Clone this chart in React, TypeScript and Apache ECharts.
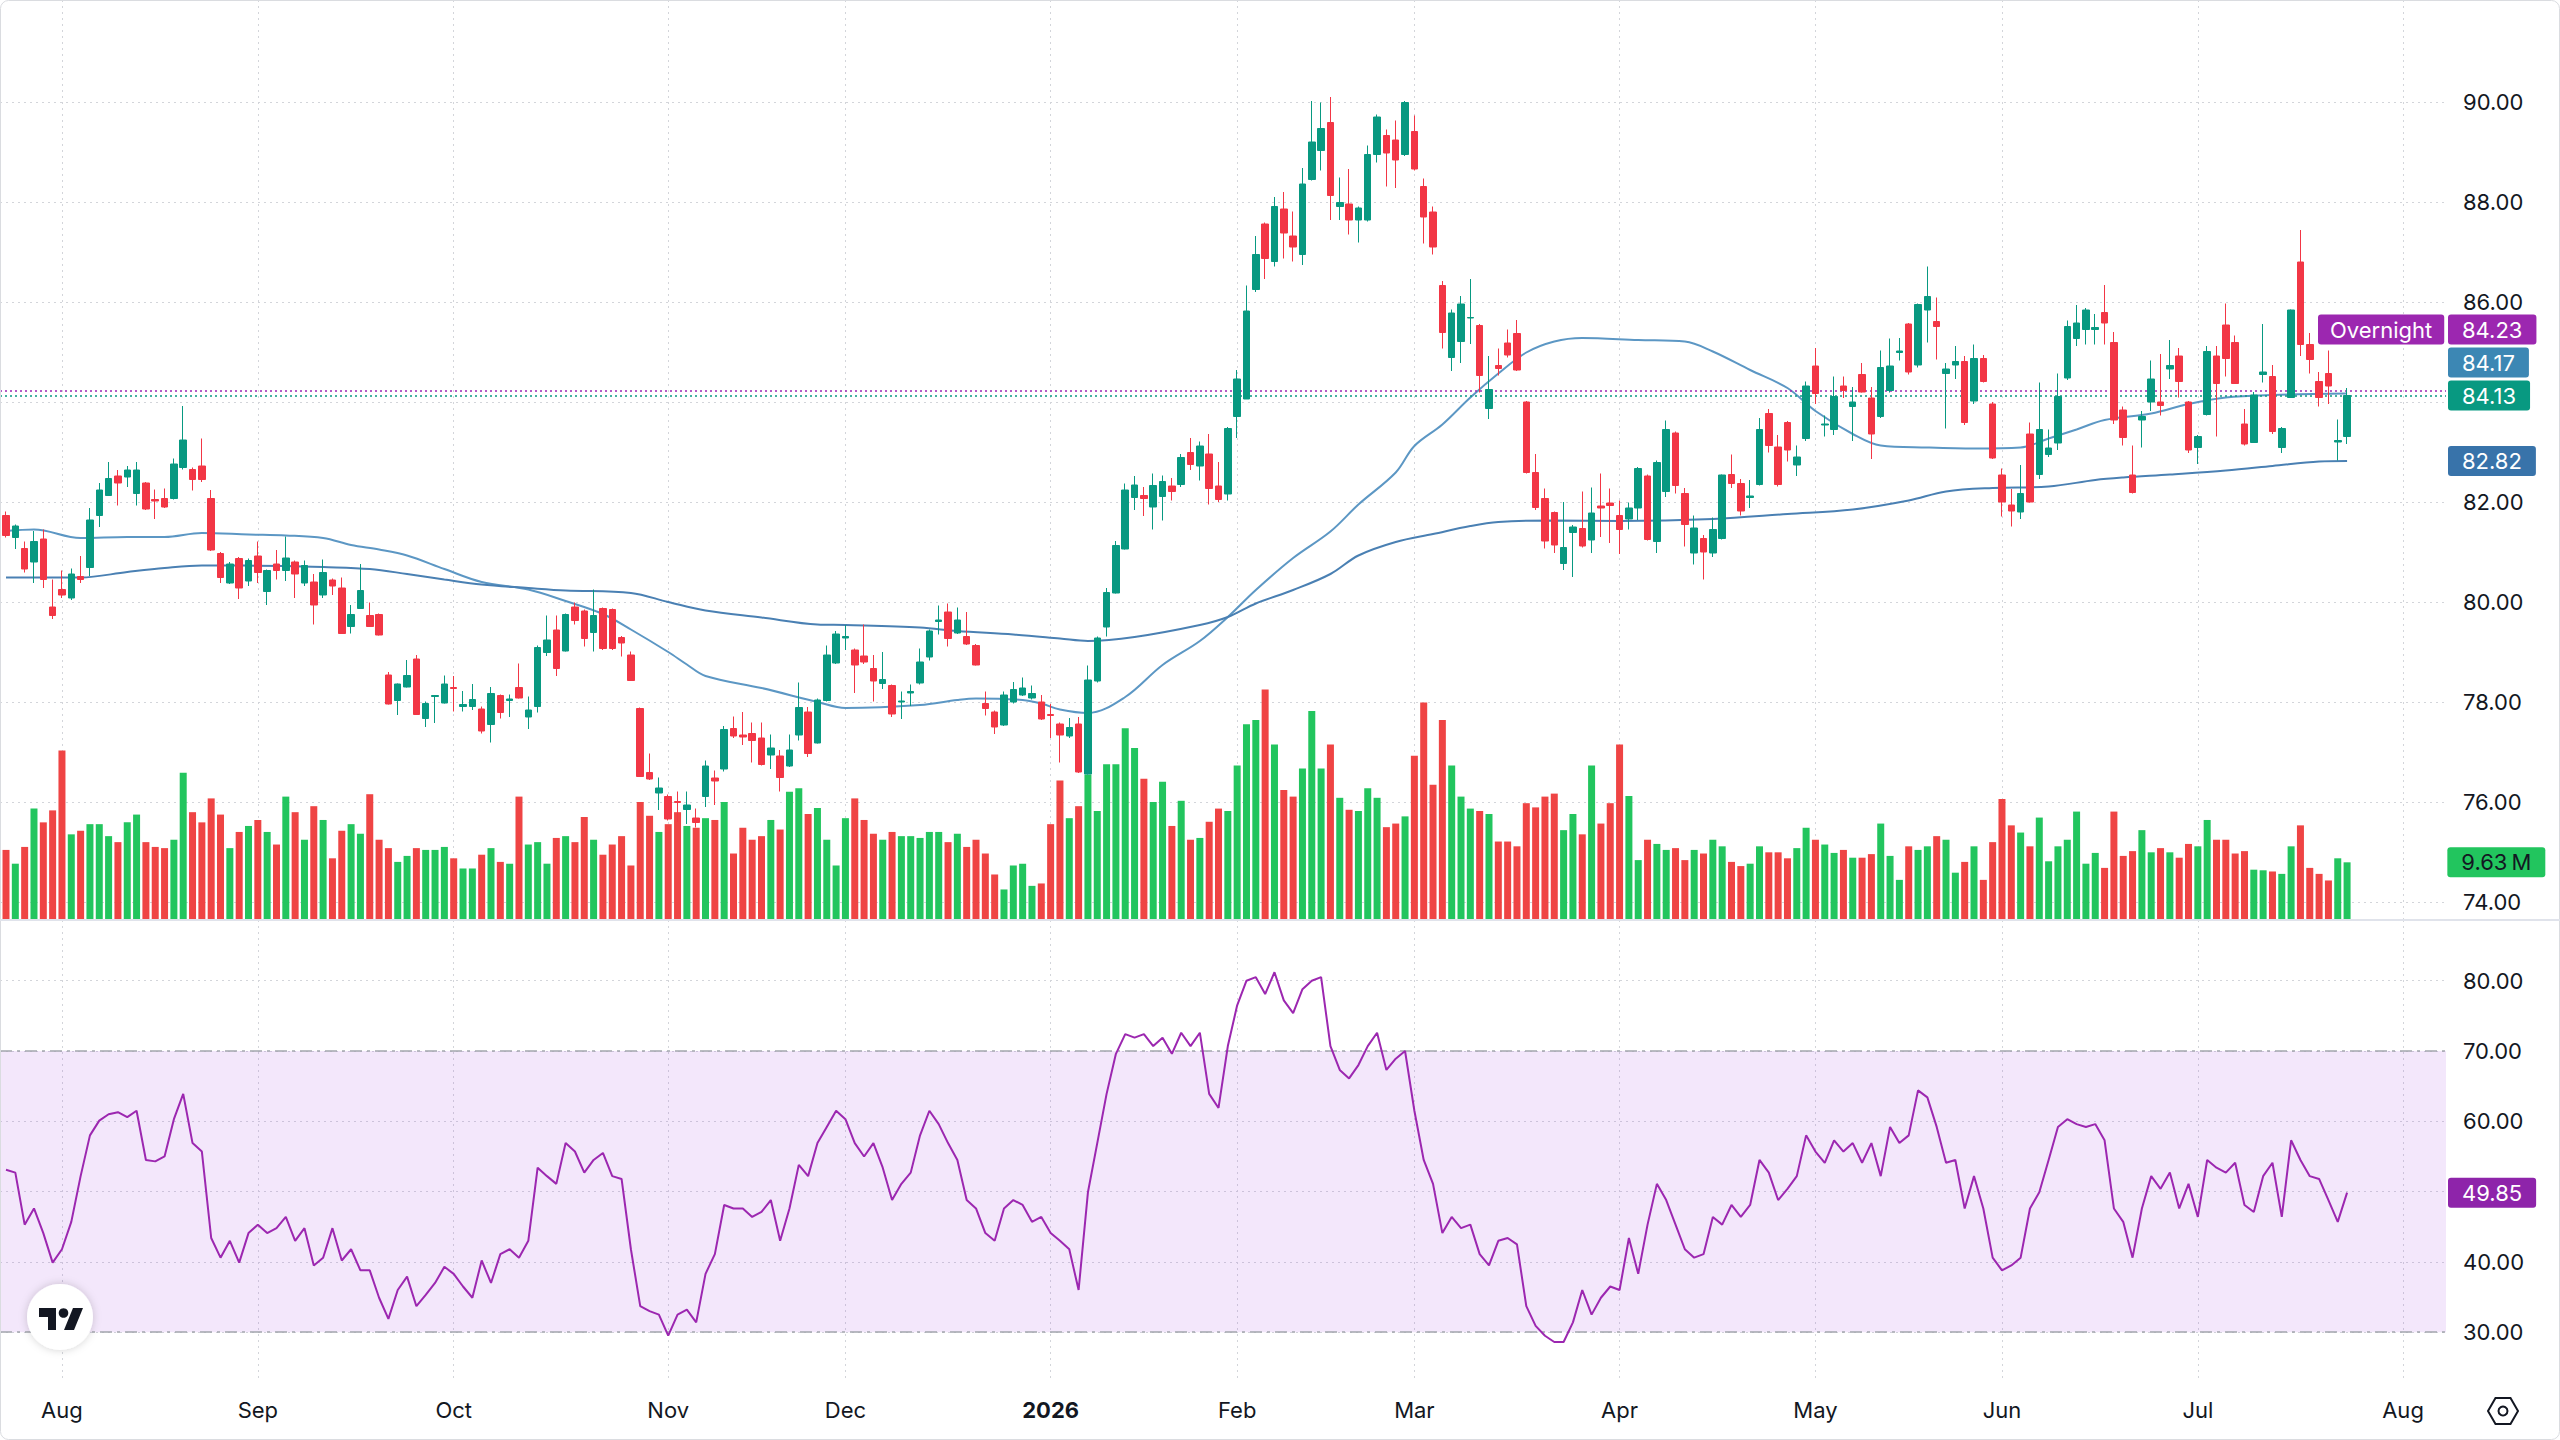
import React, { useEffect, useRef } from "react";
import * as echarts from "echarts";

// ---------- sessions ----------
const HOLIDAYS = [
  "2025-09-01", "2025-11-27", "2025-12-25", "2026-01-01", "2026-01-19",
  "2026-02-16", "2026-04-03", "2026-05-25", "2026-06-19", "2026-07-03",
];
const FIRST_SESSION = "2025-07-24";
const SESSION_COUNT = 262; // traded sessions plus two empty weeks on the right
const MONTH_NAMES = ["Jan", "Feb", "Mar", "Apr", "May", "Jun", "Jul", "Aug", "Sep", "Oct", "Nov", "Dec"];

// ---------- daily bars ----------
const OPEN = [
  81.73, 81.29, 81.07, 80.80, 81.26, 79.90, 80.25, 80.08, 80.51, 80.69,
  81.73, 82.13, 82.52, 82.50, 82.17, 82.38, 82.05, 82.07, 82.07, 82.69,
  82.65, 82.72, 82.07, 80.97, 80.38, 80.87, 80.42, 80.92, 80.21, 80.76,
  80.63, 80.80, 80.38, 80.40, 80.14, 80.44, 80.28, 79.51, 79.87, 79.73,
  79.75, 78.54, 78.03, 78.30, 78.86, 77.67, 78.11, 77.98, 78.29, 77.91,
  77.91, 77.86, 77.55, 78.13, 78.03, 78.29, 77.70, 77.91, 78.99, 79.44,
  79.02, 79.90, 79.82, 79.39, 79.87, 79.85, 79.29, 78.94, 77.87, 76.59,
  76.18, 76.11, 76.01, 75.85, 75.68, 76.11, 76.48, 76.66, 77.47, 77.34,
  77.37, 77.28, 76.94, 76.92, 76.72, 77.34, 77.80, 77.18, 78.03, 78.78,
  79.28, 79.04, 78.92, 78.67, 78.37, 78.33, 78.00, 78.18, 78.38, 78.90,
  79.61, 79.80, 79.38, 79.31, 79.13, 77.97, 77.80, 77.54, 78.00, 78.14,
  78.08, 78.00, 77.75, 77.56, 77.32, 77.56, 76.56, 78.42, 79.50, 80.18,
  81.06, 82.09, 82.13, 81.90, 82.11, 82.32, 82.35, 82.99, 82.72, 82.96,
  82.32, 82.16, 83.71, 84.06, 86.25, 87.56, 86.81, 87.86, 87.32, 86.95,
  88.45, 89.03, 89.59, 87.91, 87.96, 87.64, 87.64, 88.95, 89.33, 89.24,
  88.95, 89.41, 88.31, 87.80, 86.33, 84.89, 85.21, 85.68, 85.53, 83.87,
  84.73, 85.18, 85.37, 84.00, 82.59, 82.07, 81.79, 80.77, 81.39, 81.47,
  81.24, 81.92, 81.98, 81.73, 81.66, 81.88, 82.52, 81.21, 82.21, 83.38,
  82.17, 80.98, 81.27, 80.98, 81.27, 82.55, 82.37, 82.09, 82.35, 83.77,
  83.10, 83.59, 82.74, 83.27, 84.72, 83.54, 83.45, 84.32, 83.91, 84.55,
  84.08, 83.71, 84.23, 84.99, 85.56, 84.74, 85.84, 85.61, 84.57, 84.74,
  84.81, 84.02, 84.87, 83.96, 82.54, 81.94, 81.80, 83.36, 82.55, 82.95,
  83.18, 84.48, 85.27, 85.45, 85.45, 85.79, 85.19, 83.84, 82.54, 83.64,
  84.00, 84.00, 84.66, 84.92, 84.00, 83.09, 83.75, 84.92, 85.54, 85.19,
  83.56, 83.19, 84.55, 84.51, 83.09, 84.09, 86.80, 85.15, 84.41, 84.57,
  83.20, 83.31,
];
const HIGH = [
  81.81, 81.55, 81.21, 81.42, 81.45, 80.45, 80.63, 80.67, 80.92, 81.88,
  82.38, 82.80, 82.64, 82.72, 82.80, 82.40, 82.25, 82.27, 82.87, 83.92,
  82.69, 83.27, 82.24, 81.00, 80.80, 80.90, 80.87, 81.21, 80.65, 81.04,
  81.31, 80.83, 80.83, 80.56, 80.85, 80.47, 80.49, 79.94, 80.76, 79.99,
  79.77, 78.60, 78.37, 78.84, 78.94, 78.01, 78.14, 78.53, 78.52, 78.22,
  78.36, 77.91, 78.30, 78.15, 78.15, 78.77, 78.11, 79.13, 79.73, 79.73,
  79.77, 79.99, 79.85, 80.25, 79.89, 79.87, 79.32, 79.01, 77.89, 76.97,
  76.49, 76.15, 76.21, 76.21, 75.87, 76.83, 76.63, 77.52, 77.71, 77.80,
  77.59, 77.59, 77.35, 77.04, 77.35, 78.39, 77.90, 78.07, 79.13, 79.42,
  79.54, 79.07, 79.55, 78.94, 79.00, 78.35, 78.21, 78.35, 79.07, 79.45,
  79.93, 79.97, 79.89, 79.80, 79.16, 78.21, 77.83, 78.21, 78.40, 78.49,
  78.33, 78.14, 77.96, 77.59, 77.68, 77.70, 78.73, 79.31, 80.28, 81.22,
  82.37, 82.52, 82.30, 82.57, 82.53, 82.48, 82.96, 83.28, 83.21, 83.36,
  82.80, 83.50, 84.64, 86.33, 87.32, 87.59, 88.10, 88.20, 87.81, 88.68,
  90.02, 89.99, 90.10, 88.49, 88.66, 87.91, 89.13, 89.75, 89.45, 89.63,
  90.02, 89.73, 88.47, 87.91, 86.42, 85.85, 86.12, 86.46, 85.56, 84.92,
  85.07, 85.45, 85.64, 84.02, 82.96, 82.27, 81.81, 82.00, 81.54, 82.21,
  82.29, 82.57, 82.27, 82.03, 81.99, 82.70, 82.55, 82.83, 83.63, 83.41,
  82.28, 81.73, 81.34, 81.69, 82.55, 82.95, 82.46, 82.44, 83.68, 83.86,
  83.34, 83.62, 83.13, 84.41, 85.08, 83.73, 84.51, 84.51, 84.30, 84.78,
  84.30, 85.03, 85.27, 85.28, 85.58, 85.97, 86.71, 86.09, 84.78, 85.12,
  84.92, 85.15, 84.94, 84.00, 82.67, 82.26, 82.74, 83.59, 84.39, 83.45,
  84.57, 85.63, 85.94, 85.88, 85.76, 86.34, 85.40, 83.91, 83.13, 83.82,
  84.83, 84.96, 85.24, 85.08, 84.02, 83.34, 85.12, 85.12, 85.97, 85.33,
  83.86, 84.20, 85.56, 84.74, 83.50, 85.85, 87.44, 85.38, 84.60, 85.03,
  83.65, 84.28,
];
const LOW = [
  81.29, 81.06, 80.59, 80.38, 80.28, 79.66, 80.08, 80.04, 80.38, 80.52,
  81.50, 82.13, 81.93, 82.30, 81.93, 81.84, 81.66, 81.88, 82.05, 82.65,
  82.23, 82.40, 81.02, 80.38, 80.36, 80.06, 80.32, 80.38, 79.94, 80.45,
  80.42, 80.08, 80.32, 79.55, 80.08, 80.14, 79.36, 79.37, 79.86, 79.50,
  79.33, 77.95, 77.74, 78.29, 77.74, 77.50, 77.58, 77.97, 77.81, 77.81,
  77.84, 77.37, 77.19, 77.67, 77.70, 78.07, 77.46, 77.79, 78.92, 78.52,
  79.01, 79.55, 79.11, 79.01, 79.04, 79.04, 78.91, 78.42, 76.50, 76.44,
  75.84, 75.63, 75.60, 75.56, 75.49, 75.90, 75.94, 76.61, 77.28, 77.14,
  76.79, 76.73, 76.66, 76.21, 76.70, 77.23, 76.90, 77.17, 78.01, 78.76,
  79.04, 78.18, 78.76, 78.01, 78.26, 77.70, 77.66, 77.92, 78.35, 78.83,
  79.35, 79.11, 79.36, 79.14, 78.73, 77.73, 77.36, 77.52, 77.97, 78.12,
  78.05, 77.64, 77.28, 76.79, 77.28, 76.58, 76.55, 78.39, 79.31, 80.17,
  81.05, 81.84, 81.72, 81.45, 81.63, 82.03, 82.30, 82.64, 82.43, 81.95,
  82.00, 82.03, 83.28, 84.06, 86.20, 86.46, 86.71, 86.87, 86.81, 86.74,
  88.43, 88.63, 87.64, 87.64, 87.35, 87.19, 87.61, 88.79, 88.31, 88.28,
  88.92, 88.63, 87.17, 86.95, 85.07, 84.62, 84.78, 85.16, 84.19, 83.66,
  84.53, 84.89, 84.62, 82.57, 81.84, 81.07, 80.98, 80.64, 80.50, 81.09,
  80.98, 81.30, 81.18, 80.96, 81.45, 81.64, 81.23, 80.98, 82.10, 82.17,
  81.11, 80.75, 80.45, 80.90, 81.25, 82.28, 81.73, 81.88, 82.33, 82.99,
  82.31, 82.81, 82.52, 83.22, 83.96, 83.31, 83.34, 84.08, 83.22, 84.19,
  82.86, 83.68, 84.19, 84.83, 84.55, 84.69, 85.19, 84.85, 83.47, 84.46,
  83.54, 83.96, 84.39, 82.86, 81.71, 81.51, 81.66, 81.99, 82.46, 82.90,
  83.04, 84.44, 85.12, 85.15, 85.15, 85.15, 83.56, 83.13, 82.17, 83.09,
  83.82, 83.73, 84.46, 84.09, 82.98, 82.76, 83.73, 83.31, 84.51, 84.36,
  83.13, 83.18, 84.39, 83.36, 82.98, 84.08, 84.92, 84.57, 83.91, 83.96,
  82.83, 83.16,
];
const CLOSE = [
  81.33, 81.52, 80.66, 81.21, 80.45, 79.73, 80.14, 80.56, 80.45, 81.64,
  82.24, 82.47, 82.38, 82.64, 82.64, 81.86, 82.02, 81.90, 82.76, 83.24,
  82.45, 82.45, 81.04, 80.49, 80.76, 80.28, 80.83, 80.59, 80.63, 80.63,
  80.88, 80.56, 80.73, 79.94, 80.59, 80.32, 79.37, 79.75, 80.23, 79.51,
  79.34, 77.96, 78.36, 78.53, 77.75, 77.97, 78.13, 78.36, 78.27, 77.95,
  78.05, 77.42, 78.17, 77.79, 78.06, 78.08, 77.84, 79.09, 79.24, 78.67,
  79.75, 79.63, 79.27, 79.73, 79.07, 79.07, 79.18, 78.43, 76.51, 76.46,
  76.28, 75.66, 75.99, 75.94, 75.59, 76.72, 76.42, 77.45, 77.32, 77.30,
  77.23, 76.75, 77.08, 76.49, 77.04, 77.89, 76.97, 78.04, 78.94, 79.36,
  79.31, 78.74, 78.80, 78.42, 78.45, 77.76, 78.02, 78.21, 78.80, 79.42,
  79.64, 79.27, 79.64, 79.16, 78.74, 77.87, 77.50, 78.14, 78.25, 78.28,
  78.17, 77.66, 77.73, 77.34, 77.49, 76.60, 78.44, 79.28, 80.19, 81.13,
  82.24, 82.34, 82.07, 82.33, 82.41, 82.21, 82.89, 82.75, 83.12, 82.27,
  82.05, 83.47, 84.46, 85.82, 86.95, 86.87, 87.91, 87.38, 87.10, 88.36,
  89.20, 89.47, 88.13, 87.99, 87.64, 87.88, 88.95, 89.70, 88.98, 88.84,
  89.99, 88.66, 87.70, 87.10, 85.39, 85.78, 85.96, 85.69, 84.53, 84.25,
  84.67, 84.94, 84.64, 82.59, 81.89, 81.22, 81.14, 81.09, 81.50, 81.12,
  81.78, 81.88, 81.93, 81.45, 81.88, 82.67, 81.25, 82.79, 83.45, 82.33,
  81.55, 81.48, 81.00, 81.45, 82.54, 82.37, 81.82, 82.12, 83.45, 83.13,
  82.35, 83.04, 82.90, 84.32, 84.17, 83.56, 84.11, 84.23, 84.00, 84.20,
  83.36, 84.69, 84.72, 85.02, 84.60, 85.95, 86.11, 85.51, 84.66, 84.81,
  83.59, 84.87, 84.41, 82.88, 82.00, 81.82, 82.17, 82.00, 83.45, 83.08,
  84.11, 85.51, 85.58, 85.84, 85.49, 85.58, 83.64, 83.29, 82.19, 83.71,
  84.46, 83.93, 84.73, 84.41, 83.04, 83.31, 85.01, 84.37, 84.87, 84.37,
  83.16, 84.14, 84.60, 83.41, 83.47, 85.84, 85.15, 84.85, 84.09, 84.32,
  83.23, 84.13,
];
// shares traded, millions
const VOLUME_M = [
  11.7, 9.4, 12.2, 18.6, 16.3, 18.3, 28.3, 14.3, 14.9, 16.0,
  16.0, 14.0, 13.0, 16.3, 17.6, 13.0, 12.2, 12.0, 13.4, 24.6,
  18.0, 16.3, 20.3, 17.6, 12.0, 14.7, 15.7, 16.7, 14.7, 12.6,
  20.6, 18.0, 13.4, 19.0, 16.7, 10.3, 14.9, 16.0, 14.4, 21.0,
  13.4, 12.0, 9.7, 10.7, 12.0, 11.7, 11.7, 12.2, 10.3, 8.6,
  8.6, 10.9, 12.0, 9.7, 9.4, 20.6, 12.6, 13.0, 9.4, 13.7,
  14.0, 13.0, 17.2, 13.4, 10.9, 12.6, 14.0, 9.1, 19.7, 17.4,
  14.7, 16.0, 18.0, 15.7, 15.4, 17.0, 16.7, 19.7, 11.1, 15.4,
  13.4, 14.0, 16.7, 15.1, 21.4, 22.0, 17.7, 18.7, 13.4, 9.1,
  17.0, 20.3, 16.7, 14.4, 13.4, 14.7, 14.0, 14.0, 13.7, 14.7,
  14.7, 13.0, 14.4, 12.2, 13.4, 11.1, 7.6, 5.1, 9.1, 9.4,
  5.7, 6.1, 16.0, 23.3, 17.0, 19.0, 24.3, 18.2, 26.0, 26.0,
  32.0, 28.7, 23.6, 19.7, 23.1, 15.7, 19.9, 13.4, 13.7, 16.4,
  18.6, 18.2, 25.8, 32.7, 33.4, 38.5, 29.3, 21.7, 20.6, 25.3,
  34.9, 25.3, 29.3, 20.4, 18.4, 18.2, 22.0, 20.4, 15.5, 16.1,
  17.3, 27.4, 36.3, 22.6, 33.4, 25.8, 20.6, 18.6, 18.2, 17.7,
  13.1, 13.1, 12.3, 19.5, 18.8, 20.6, 21.1, 15.0, 17.7, 14.3,
  25.8, 16.1, 19.5, 29.3, 20.7, 10.0, 13.4, 12.7, 11.7, 12.0,
  10.0, 11.7, 11.1, 13.4, 12.3, 9.7, 9.0, 9.4, 12.3, 11.3,
  11.3, 10.3, 12.0, 15.4, 13.4, 12.6, 11.2, 11.7, 10.4, 10.4,
  11.0, 16.1, 10.7, 6.7, 12.3, 11.7, 12.3, 14.0, 13.4, 7.9,
  9.7, 12.3, 6.7, 13.0, 20.2, 15.8, 14.6, 12.3, 17.1, 9.8,
  12.3, 13.4, 18.1, 9.4, 11.2, 8.7, 18.1, 10.7, 11.5, 15.0,
  11.3, 12.0, 11.3, 10.4, 12.7, 12.3, 16.7, 13.4, 13.4, 11.1,
  11.5, 8.4, 8.3, 8.1, 7.7, 12.3, 15.8, 8.7, 7.7, 6.6,
  10.3, 9.63,
];
// 14-day RSI
const RSI_14 = [
  53.1, 52.7, 45.3, 47.6, 44.1, 39.9, 41.8, 45.7, 52.2, 58.0,
  60.1, 61.0, 61.3, 60.6, 61.5, 54.5, 54.3, 55.0, 60.3, 63.9,
  56.9, 55.7, 43.4, 40.6, 43.0, 39.9, 44.1, 45.3, 44.1, 44.8,
  46.4, 43.0, 44.8, 39.5, 40.6, 44.8, 40.2, 41.8, 38.8, 38.8,
  34.9, 31.9, 36.0, 37.9, 33.7, 35.3, 37.0, 39.3, 38.3, 36.5,
  34.9, 40.2, 37.0, 41.1, 41.8, 40.6, 43.0, 53.4, 52.2, 51.1,
  56.9, 55.7, 52.7, 54.5, 55.5, 52.2, 51.8, 41.8, 33.7, 33.0,
  32.5, 29.5, 32.5, 33.2, 31.4, 38.3, 41.1, 48.1, 47.6, 47.6,
  46.4, 47.1, 48.8, 43.0, 47.6, 53.8, 52.2, 56.9, 59.2, 61.5,
  60.3, 56.9, 55.0, 56.9, 53.4, 48.8, 51.1, 52.7, 58.0, 61.5,
  59.6, 56.9, 54.5, 48.8, 47.6, 44.1, 43.0, 47.6, 48.8, 48.1,
  45.7, 46.4, 44.1, 43.0, 41.8, 36.0, 49.9, 56.9, 63.9, 69.6,
  72.4, 71.9, 72.4, 70.7, 71.9, 69.6, 72.6, 70.7, 72.6, 63.9,
  61.9, 70.7, 76.5, 80.0, 80.5, 78.1, 81.2, 77.2, 75.4, 78.8,
  80.0, 80.5, 70.7, 67.3, 66.1, 68.0, 70.7, 72.6, 67.3, 68.9,
  70.0, 61.5, 54.5, 51.1, 44.1, 46.4, 44.8, 45.3, 41.1, 39.5,
  43.0, 43.4, 42.5, 33.7, 30.9, 29.5, 28.6, 28.6, 31.4, 36.0,
  32.5, 34.9, 36.5, 36.0, 43.4, 38.3, 45.3, 51.1, 48.8, 45.3,
  41.8, 40.6, 41.1, 46.4, 45.3, 48.1, 46.4, 48.1, 54.5, 52.7,
  48.8, 50.4, 52.2, 58.0, 55.7, 54.1, 57.3, 55.7, 56.9, 54.1,
  56.9, 52.2, 59.2, 56.9, 58.0, 64.4, 63.4, 59.2, 54.1, 54.5,
  47.6, 52.2, 47.6, 40.6, 38.8, 39.5, 40.6, 47.6, 49.9, 54.5,
  59.2, 60.3, 59.6, 59.2, 59.6, 57.3, 47.6, 45.7, 40.6, 47.6,
  52.2, 50.4, 52.7, 47.6, 51.1, 46.4, 54.5, 53.4, 52.7, 54.1,
  48.1, 47.1, 52.2, 54.1, 46.4, 57.3, 54.5, 52.2, 51.8, 48.8,
  45.7, 49.85,
];
// moving averages, [session index, value]
const MA_FAST = [
  [0, 81.42], [3, 81.45], [8, 81.28], [13, 81.30], [17, 81.30], [21, 81.38], [26, 81.35],
  [30, 81.33], [34, 81.28], [37, 81.14], [40, 81.05], [43, 80.93], [47, 80.66], [51, 80.40],
  [56, 80.25], [60, 80.02], [64, 79.76], [67, 79.45], [71, 79.00], [73, 78.75], [75, 78.52],
  [81, 78.28], [87, 78.00], [90, 77.88], [98, 77.94], [102, 78.04], [104, 78.07], [109, 78.04],
  [111, 77.97], [113, 77.85], [116, 77.78], [120, 78.10], [124, 78.74], [128, 79.22],
  [131, 79.70], [134, 80.24], [138, 80.88], [142, 81.41], [145, 81.95], [149, 82.59],
  [151, 83.12], [154, 83.55], [157, 84.09], [160, 84.57], [163, 84.99], [166, 85.21],
  [169, 85.28], [175, 85.24], [180, 85.21], [183, 85.01], [187, 84.64], [191, 84.28],
  [194, 83.82], [198, 83.36], [201, 83.13], [206, 83.09], [211, 83.07], [216, 83.09],
  [219, 83.27], [222, 83.45], [225, 83.64], [230, 83.77], [234, 83.96], [238, 84.09],
  [243, 84.14], [251, 84.17],
];
const MA_SLOW = [
  [0, 80.49], [8, 80.49], [13, 80.60], [17, 80.68], [21, 80.73], [30, 80.72], [34, 80.70],
  [39, 80.66], [43, 80.56], [47, 80.45], [51, 80.35], [56, 80.28], [60, 80.23], [67, 80.18],
  [71, 80.00], [75, 79.83], [81, 79.69], [87, 79.55], [90, 79.54], [98, 79.49], [102, 79.42],
  [108, 79.35], [113, 79.27], [116, 79.22], [121, 79.30], [128, 79.54], [131, 79.70],
  [134, 79.97], [138, 80.24], [142, 80.56], [145, 80.93], [149, 81.20], [153, 81.36],
  [157, 81.52], [160, 81.60], [166, 81.63], [173, 81.62], [183, 81.66], [191, 81.76],
  [198, 81.85], [204, 82.03], [208, 82.21], [213, 82.28], [219, 82.31], [224, 82.44],
  [227, 82.49], [232, 82.55], [238, 82.63], [243, 82.72], [248, 82.81], [251, 82.82],
];
const OVERNIGHT_PRICE = 84.23;

// axis tick labels
const PRICE_TICKS = { min: 74, max: 90, step: 2 };
const RSI_TICKS = { min: 30, max: 80, step: 10 };
const RSI_BAND = [30, 70];

// ---------- colours ----------
const UP = "#089981";
const DOWN = "#f23645";
const VOL_UP = "#22c55e";
const VOL_DOWN = "#ef4444";
const MA_FAST_COLOR = "#5c97c4";
const MA_SLOW_COLOR = "#4a80b3";
const MA_FAST_TAG = "#3c87b4";
const MA_SLOW_TAG = "#3873aa";
const PURPLE = "#9c27b0";
const RSI_COLOR = "#9c27b0";
const TEXT = "#131722";
const CLEAR = "rgba(0,0,0,0)";
const GRID_DOTS = { color: "#d3d5da", type: [2, 4] as number[], width: 1 };
const FONT = "Inter, 'Noto Sans', 'DejaVu Sans', sans-serif";

// ---------- layout (pixels) ----------
const PANE_TOP = 0;
const PANE_H = 920;
const RSI_TOP = 920;
const RSI_H = 462;
const PLOT_W = 2446;
const FIRST_X = 6;
const BAR_STEP = 9.327;
const PX_PER_PRICE = 50;
const Y_OF_90 = 102;
const PX_PER_VOL = 5.99;
const PX_PER_RSI = 7.03;
const Y_OF_RSI80 = 980.7;
const TAG_H = 30;
const TAG_STEP = 33;
const AXIS_TEXT_H = 24;

function tradingDays(start: string, count: number): string[] {
  const out: string[] = [];
  const d = new Date(start + "T00:00:00Z");
  while (out.length < count) {
    const iso = d.toISOString().slice(0, 10);
    const wd = d.getUTCDay();
    if (wd !== 0 && wd !== 6 && !HOLIDAYS.includes(iso)) out.push(iso);
    d.setUTCDate(d.getUTCDate() + 1);
  }
  return out;
}
const DATES = tradingDays(FIRST_SESSION, SESSION_COUNT);
const isMonthStart = (i: number) => i > 0 && DATES[i].slice(0, 7) !== DATES[i - 1].slice(0, 7);

function tag(bg: string, fg: string, text: string, extra: Record<string, unknown> = {}) {
  return {
    show: true,
    position: "end",
    distance: 2,
    formatter: text,
    color: fg,
    opacity: 1,
    backgroundColor: bg,
    padding: [5, 14, 5, 14],
    borderRadius: 3,
    fontSize: 22,
    lineHeight: TAG_H - 10,
    fontFamily: FONT,
    ...extra,
  };
}

// a value tag with no visible guide line
function bareTag(value: number, label: Record<string, unknown>) {
  return { yAxis: value, lineStyle: { color: CLEAR, width: 0 }, label };
}

// scale labels that would sit under a value tag are left out, as the tag covers them
function scaleLabel(tagValue: number, pxPerUnit: number) {
  const clearance = (TAG_H + AXIS_TEXT_H) / 2 / pxPerUnit;
  return (v: number) => (Math.abs(v - tagValue) < clearance ? "" : v.toFixed(2));
}

function buildOption() {
  const last = CLOSE.length - 1;
  const priceMin = 90 - (PANE_TOP + PANE_H - Y_OF_90) / PX_PER_PRICE;
  const priceMax = 90 + (Y_OF_90 - PANE_TOP) / PX_PER_PRICE;
  const volMax = PANE_H / PX_PER_VOL;
  const rsiMin = RSI_TICKS.min - (RSI_TOP + RSI_H - (Y_OF_RSI80 + 50 * PX_PER_RSI)) / PX_PER_RSI;
  const rsiMax = RSI_TICKS.max + (Y_OF_RSI80 - RSI_TOP) / PX_PER_RSI;
  const seriesW = BAR_STEP * (SESSION_COUNT - 1);
  const maFastLast = MA_FAST[MA_FAST.length - 1][1];
  const maSlowLast = MA_SLOW[MA_SLOW.length - 1][1];

  // tags close to the last price are stacked upwards above the close tag
  const fastShift = -TAG_STEP + (maFastLast - CLOSE[last]) * PX_PER_PRICE;
  const nightShift = -2 * TAG_STEP + (OVERNIGHT_PRICE - CLOSE[last]) * PX_PER_PRICE;

  const monthSplit = {
    show: true,
    interval: (i: number) => isMonthStart(i),
    lineStyle: GRID_DOTS,
  };
  const axisText = { color: TEXT, fontSize: 22, fontFamily: FONT };

  return {
    animation: false,
    backgroundColor: "#ffffff",
    textStyle: { fontFamily: FONT },
    grid: [
      { left: FIRST_X, top: PANE_TOP, width: seriesW, height: PANE_H },
      { left: 0, top: Y_OF_90, width: PLOT_W, height: (PRICE_TICKS.max - PRICE_TICKS.min) * PX_PER_PRICE },
      { left: FIRST_X, top: RSI_TOP, width: seriesW, height: RSI_H },
      { left: 0, top: Y_OF_RSI80, width: PLOT_W, height: (RSI_TICKS.max - RSI_TICKS.min) * PX_PER_RSI },
    ],
    xAxis: [
      {
        gridIndex: 0, type: "category", data: DATES, boundaryGap: false,
        axisLine: { show: false }, axisTick: { show: false }, axisLabel: { show: false },
        splitLine: monthSplit,
      },
      { gridIndex: 1, type: "value", min: 0, max: 1, show: false },
      {
        gridIndex: 2, type: "category", data: DATES, boundaryGap: false,
        axisLine: { show: false }, axisTick: { show: false },
        axisLabel: {
          ...axisText,
          margin: 17,
          interval: (i: number) => isMonthStart(i),
          formatter: (v: string) => {
            const m = Number(v.slice(5, 7));
            return m === 1 ? `{yr|${v.slice(0, 4)}}` : MONTH_NAMES[m - 1];
          },
          rich: { yr: { ...axisText, fontWeight: "bold" } },
        },
        splitLine: monthSplit,
      },
      { gridIndex: 3, type: "value", min: 0, max: 1, show: false },
    ],
    yAxis: [
      { gridIndex: 0, type: "value", min: priceMin, max: priceMax, show: false },
      { gridIndex: 0, type: "value", min: 0, max: volMax, show: false },
      {
        gridIndex: 1, type: "value", position: "right",
        min: PRICE_TICKS.min, max: PRICE_TICKS.max, interval: PRICE_TICKS.step,
        axisLine: { show: false }, axisTick: { show: false },
        axisLabel: { ...axisText, margin: 17, formatter: scaleLabel(CLOSE[last], PX_PER_PRICE) },
        splitLine: { show: true, lineStyle: GRID_DOTS },
      },
      { gridIndex: 2, type: "value", min: rsiMin, max: rsiMax, show: false },
      {
        gridIndex: 3, type: "value", position: "right",
        min: RSI_TICKS.min, max: RSI_TICKS.max, interval: RSI_TICKS.step,
        axisLine: { show: false }, axisTick: { show: false },
        axisLabel: { ...axisText, margin: 17, formatter: scaleLabel(RSI_14[last], PX_PER_RSI) },
        splitLine: { show: true, lineStyle: GRID_DOTS },
      },
    ],
    series: [
      {
        name: "Volume", type: "bar", xAxisIndex: 0, yAxisIndex: 1, barWidth: 7, clip: false, z: 1,
        data: VOLUME_M.map((v, i) => ({
          value: v,
          itemStyle: { color: CLOSE[i] >= OPEN[i] ? VOL_UP : VOL_DOWN },
        })),
        markLine: {
          silent: true, symbol: "none",
          data: [bareTag(VOLUME_M[last], tag(VOL_UP, TEXT, `${VOLUME_M[last].toFixed(2)}\u2009M`, { distance: 7 }))],
        },
      },
      {
        name: "Price", type: "candlestick", xAxisIndex: 0, yAxisIndex: 0, barWidth: 7, clip: false, z: 5,
        data: OPEN.map((o, i) => [o, CLOSE[i], LOW[i], HIGH[i]]),
        itemStyle: { color: UP, color0: DOWN, borderColor: UP, borderColor0: DOWN, borderWidth: 1 },
      },
      {
        name: "MA fast", type: "line", xAxisIndex: 0, yAxisIndex: 0, data: MA_FAST, smooth: 0.35,
        showSymbol: false, z: 4, lineStyle: { color: MA_FAST_COLOR, width: 2 },
      },
      {
        name: "MA slow", type: "line", xAxisIndex: 0, yAxisIndex: 0, data: MA_SLOW, smooth: 0.35,
        showSymbol: false, z: 4, lineStyle: { color: MA_SLOW_COLOR, width: 2 },
      },
      {
        name: "Price tags", type: "line", xAxisIndex: 1, yAxisIndex: 2, data: [[0, CLOSE[last]]],
        showSymbol: false, lineStyle: { color: CLEAR }, z: 6,
        markLine: {
          silent: true, symbol: "none",
          data: [
            {
              yAxis: OVERNIGHT_PRICE,
              lineStyle: { color: PURPLE, type: [2, 3], width: 1.5 },
              label: tag(PURPLE, "#ffffff", OVERNIGHT_PRICE.toFixed(2), { offset: [0, nightShift] }),
            },
            bareTag(OVERNIGHT_PRICE, tag(PURPLE, "#ffffff", "Overnight", { offset: [-130, nightShift], padding: [5, 12, 5, 12] })),
            {
              yAxis: CLOSE[last],
              lineStyle: { color: UP, type: [2, 3], width: 1.5 },
              label: tag(UP, "#ffffff", CLOSE[last].toFixed(2)),
            },
            bareTag(maFastLast, tag(MA_FAST_TAG, "#ffffff", maFastLast.toFixed(2), { offset: [0, fastShift] })),
            bareTag(maSlowLast, tag(MA_SLOW_TAG, "#ffffff", maSlowLast.toFixed(2))),
          ],
        },
      },
      {
        name: "RSI", type: "line", xAxisIndex: 2, yAxisIndex: 3, data: RSI_14,
        showSymbol: false, z: 5, lineStyle: { color: RSI_COLOR, width: 2 },
      },
      {
        name: "RSI band", type: "line", xAxisIndex: 3, yAxisIndex: 4, data: [[0, 50]],
        showSymbol: false, lineStyle: { color: CLEAR }, z: 1,
        markArea: {
          silent: true,
          itemStyle: { color: "rgba(160, 60, 225, 0.12)" },
          data: [[{ yAxis: RSI_BAND[0] }, { yAxis: RSI_BAND[1] }]],
        },
        markLine: {
          silent: true, symbol: "none",
          data: [
            { yAxis: RSI_BAND[1], lineStyle: { color: "#a3a6ad", type: [12, 5, 3, 5], width: 1.5 }, label: { show: false } },
            { yAxis: RSI_BAND[0], lineStyle: { color: "#a3a6ad", type: [12, 5, 3, 5], width: 1.5 }, label: { show: false } },
            bareTag(RSI_14[last], tag("#8e24aa", "#ffffff", RSI_14[last].toFixed(2))),
          ],
        },
      },
    ],
    graphic: [
      { type: "rect", shape: { x: 0.5, y: 0.5, width: 2559, height: 1439, r: 8 }, style: { fill: "none", stroke: "#dadce0", lineWidth: 1 }, silent: true, z: 50 },
      { type: "line", shape: { x1: 0, y1: 920, x2: 2560, y2: 920 }, style: { stroke: "#e0e3eb", lineWidth: 2 }, silent: true, z: 50 },
      {
        type: "circle", shape: { cx: 60, cy: 1317, r: 33 },
        style: { fill: "#ffffff", shadowBlur: 8, shadowColor: "rgba(0,0,0,0.18)" }, silent: true, z: 60,
      },
      {
        type: "polygon", shape: { points: [[39, 1308], [56, 1308], [56, 1330], [48, 1330], [48, 1317], [39, 1317]] },
        style: { fill: TEXT }, silent: true, z: 61,
      },
      {
        type: "polygon", shape: { points: [[73, 1308], [83, 1308], [74, 1330], [64, 1330]] },
        style: { fill: TEXT }, silent: true, z: 61,
      },
      { type: "circle", shape: { cx: 63.5, cy: 1313, r: 4.8 }, style: { fill: TEXT }, silent: true, z: 61 },
      {
        type: "polygon",
        shape: { points: [[2518, 1411], [2510.5, 1398], [2495.5, 1398], [2488, 1411], [2495.5, 1424], [2510.5, 1424]] },
        style: { fill: "none", stroke: TEXT, lineWidth: 2 }, silent: true, z: 60,
      },
      { type: "circle", shape: { cx: 2503, cy: 1411, r: 4.5 }, style: { fill: "none", stroke: TEXT, lineWidth: 2 }, silent: true, z: 60 },
    ],
  };
}

export default function App() {
  const ref = useRef<HTMLDivElement>(null);
  useEffect(() => {
    if (!ref.current) return;
    const chart = echarts.init(ref.current, null, { renderer: "svg" });
    chart.setOption(buildOption() as any);
    return () => chart.dispose();
  }, []);
  return (
    <div
      ref={ref}
      style={{ position: "fixed", left: 0, top: 0, width: 2560, height: 1440, background: "#ffffff" }}
    />
  );
}
